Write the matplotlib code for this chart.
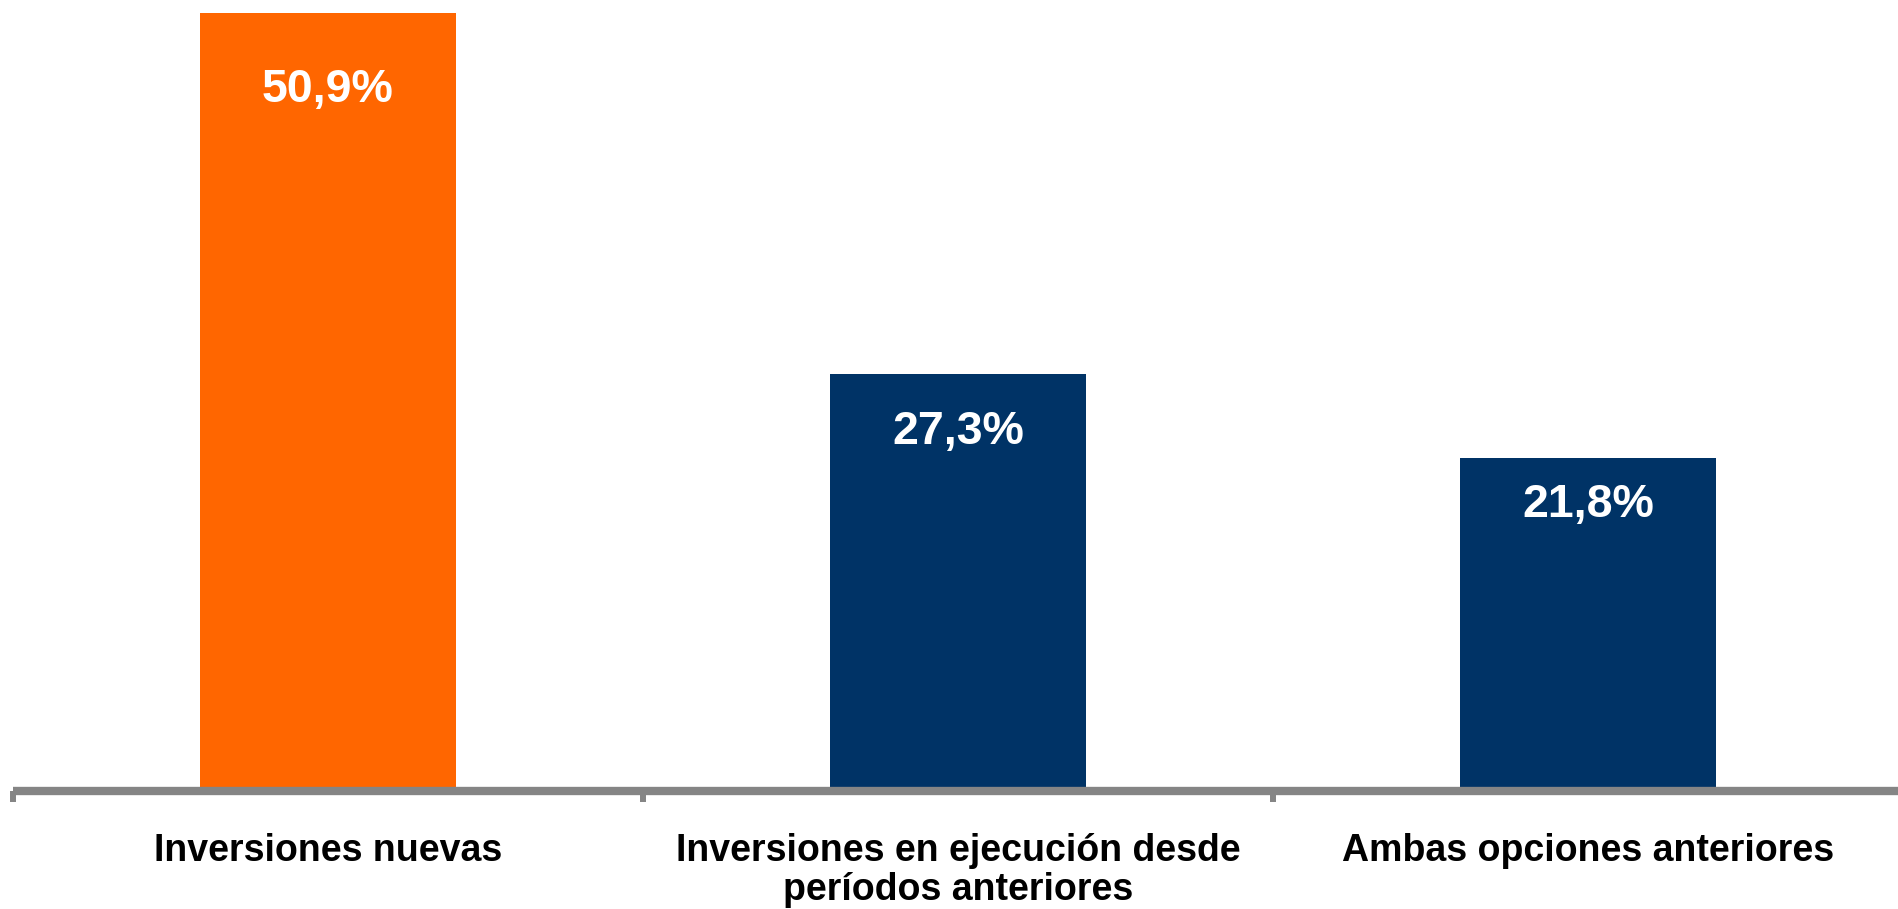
import matplotlib.pyplot as plt

plt.rcParams['font.family'] = ['Liberation Sans', 'DejaVu Sans']

categories = ['Inversiones nuevas',
              'Inversiones en ejecución desde\nperíodos anteriores',
              'Ambas opciones anteriores']
values = [50.9, 27.3, 21.8]
value_labels = ['50,9%', '27,3%', '21,8%']
colors = ['#FF6600', '#003366', '#003366']

# pixel drop of each value label baseline below the top of its bar
label_drop = [89, 70, 59]

fig = plt.figure(figsize=(18.98, 9.09), dpi=100)
ax = fig.add_axes([13 / 1898, 118 / 909, 1890 / 1898, 778 / 909])

x = range(len(categories))
ax.bar(x, values, width=0.405, color=colors, zorder=2)

ax.set_xlim(-0.5, 2.5)
ax.set_ylim(0, 50.9)

for s in ['top', 'right', 'left']:
    ax.spines[s].set_visible(False)
ax.spines['bottom'].set_color('#858585')
ax.spines['bottom'].set_linewidth(6)
ax.spines['bottom'].set_zorder(3)
ax.spines['bottom'].set_capstyle('butt')

ax.set_yticks([])
ax.set_xticks([])
ax.set_xticks([-0.5, 0.5, 1.5, 2.5], minor=True)
ax.tick_params(axis='x', which='minor', direction='out', length=8,
               width=4.3, color='#858585', labelbottom=False)

for i, (v, lab) in enumerate(zip(values, value_labels)):
    ax.annotate(lab, xy=(i, v), xytext=(0, -label_drop[i]),
                textcoords='offset pixels', ha='center', va='baseline',
                color='white', fontsize=33.5, fontweight='bold', zorder=4)

# category names, one line at a time so every first line sits on the same baseline
for i, cat in enumerate(categories):
    for k, line in enumerate(cat.split('\n')):
        ax.annotate(line, xy=(i, 0), xycoords=('data', 'axes fraction'),
                    xytext=(0, -70 - 39 * k), textcoords='offset pixels',
                    ha='center', va='baseline', fontsize=27, fontweight='bold',
                    color='black', annotation_clip=False)

fig.savefig('out.png', dpi=100)
